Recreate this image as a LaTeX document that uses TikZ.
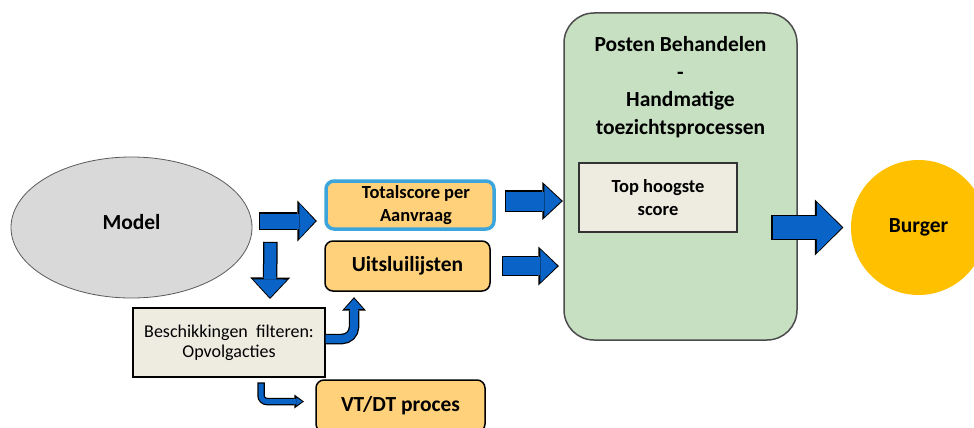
\documentclass[tikz,border=0pt]{standalone}
\usepackage{fontspec}
\setmainfont{Carlito}
\usetikzlibrary{arrows.meta}
\usetikzlibrary{calc}
\usetikzlibrary{positioning}
\usetikzlibrary{shapes.geometric}
\definecolor{arrowblue}{RGB}{10,100,200}
\definecolor{modelgray}{RGB}{217,217,217}
\definecolor{modelborder}{RGB}{90,90,90}
\definecolor{boxorange}{RGB}{255,209,122}
\definecolor{boxblue}{RGB}{60,165,220}
\definecolor{filterbeige}{RGB}{238,236,225}
\definecolor{postengreen}{RGB}{199,224,194}
\definecolor{burgeryellow}{RGB}{255,192,0}
\newcommand{\largebold}{\fontsize{21.5}{26}\selectfont\bfseries}
\newcommand{\mediumbold}{\fontsize{18.5}{22.5}\selectfont\bfseries}
\newcommand{\mediumplain}{\fontsize{18}{20}\selectfont}
\tikzset{orangebox/.style = {draw, line width = 1.5, rounded corners = 8, fill = boxorange,
                             align = center, inner sep = 0}}
\tikzset{beigebox/.style = {draw, line width = 1.2, fill = filterbeige, align = center, inner sep = 0}}
\tikzset{blockarrow/.code n args = {3}{%
    \pgfmathsetmacro{\outershaft}{#1 + 2.5}%
    \pgfmathsetmacro{\outerhead}{#2 + 6}%
    \pgfmathsetmacro{\outerlength}{#3 + 3.5}%
    \tikzset{draw = arrowblue, line width = #1pt,
             -{Triangle[length = #3pt, width = #2pt, line width = 0pt]},
             preaction = {draw = black, line width = \outershaft pt,
                          shorten < = -1.2pt, shorten > = -1.6pt,
                          -{Triangle[length = \outerlength pt, width = \outerhead pt, line width = 0pt]}}}}}

\begin{document}
\begin{tikzpicture}[x = 1pt, y = -1pt]
      \useasboundingbox (0, 0) rectangle (974, 428);
      \clip (0, 0) rectangle (974, 428);

      \node [ellipse, draw = modelborder, line width = 0.8, fill = modelgray, minimum width = 241,
             minimum height = 141, text depth = 12, font = \largebold] (model) at (131.5, 227.5) {Model};

      \node [orangebox, draw = boxblue, line width = 3.5, minimum width = 168, minimum height = 48,
             font = \mediumbold] (total) at (410, 205) {\hspace*{12pt}Totalscore per\\\hspace*{12pt}Aanvraag};
      \node [orangebox, minimum width = 165, minimum height = 50, font = \largebold] (uits) at (407.5, 266) {Uitsluilijsten};
      \node [beigebox, minimum width = 192, minimum height = 69, font = \mediumplain] (filter) at (229, 342.5)
            {Beschikkingen\ \ filteren:\\Opvolgacties};
      \node [orangebox, minimum width = 169, minimum height = 52, font = \largebold] (vtdt) at (400.5, 406)
            {VT/DT proces};

      \node [draw = black!70, line width = 1.5, rounded corners = 30, fill = postengreen,
             minimum width = 233, minimum height = 327] (posten) at (680.5, 176.5) {};
      \node [align = center, font = {\fontsize{21.5}{27.5}\selectfont\bfseries}] (titel) at (680.5, 87)
            {Posten Behandelen\\-\\Handmatige\\toezichtsprocessen};
      \node [beigebox, draw = black!80, minimum width = 158, minimum height = 69, font = \mediumbold] (top)
            at (658, 197.5) {Top hoogste\\score};

      \node [circle, fill = burgeryellow, minimum size = 135, font = \largebold] (burger) at (918.5, 227.5) {Burger};

      \draw [blockarrow = {15}{35}{16}] ($(model.east) + (8, -6.5)$) -- ($(total.west) + (-9, 16)$);
      \draw [blockarrow = {12}{34}{18}] ($(model.east) + (18, 15.5)$) -- ($(filter.north) + (41, -10)$);
      \draw [blockarrow = {19}{32}{17}] ($(total.east) + (10, -4)$) -- ($(posten.west) + (-2, 24.5)$);
      \draw [blockarrow = {18}{33}{17}] ($(uits.east) + (12, 0)$) -- ($(posten.west) + (-6, 89.5)$);
      \draw [blockarrow = {23}{50}{25}] ($(top.east) + (35, 30)$) -- ($(burger.west) + (-9, 0)$);
      \draw [blockarrow = {8}{18}{10}, rounded corners = 12] ($(filter.east) + (0, -3.5)$) -| ($(uits.south) + (-53.5, 7)$);
      \draw [blockarrow = {5}{8}{6}, rounded corners = 6] ($(filter.south) + (32, 6)$) |- ($(vtdt.west) + (-13, -4.5)$);

\end{tikzpicture}
\end{document}
